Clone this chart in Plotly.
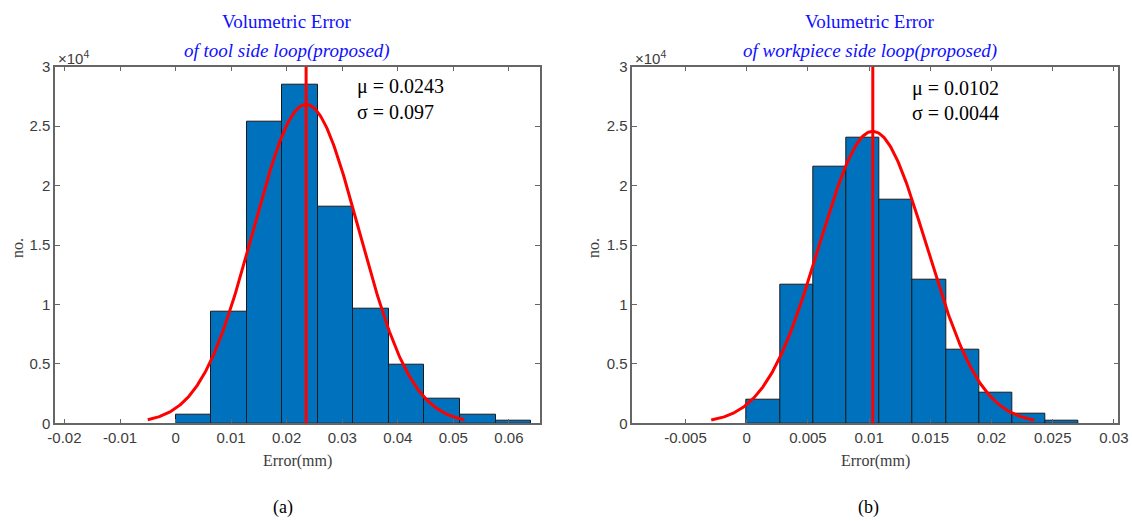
import numpy as np
import plotly.graph_objects as go

# ---------------- data ----------------
counts_a = [750, 9350, 25400, 28500, 18200, 9650, 4950, 2100, 720, 200]
bin_start_a = 0.0
bin_width_a = 0.0064
fit_mu_a = 0.0235
fit_sigma_a = 0.0095

counts_b = [1950, 11650, 21600, 24000, 18850, 12050, 6200, 2550, 850, 200]
bin_start_b = 0.0
bin_width_b = 0.002712
fit_mu_b = 0.0103
fit_sigma_b = 0.0044

label_mu_a, label_sigma_a = "0.0243", "0.097"
label_mu_b, label_sigma_b = "0.0102", "0.0044"

title1 = "Volumetric Error"
title2_a = "of tool side loop(proposed)"
title2_b = "of workpiece side loop(proposed)"

xticks_a = [-0.02, -0.01, 0, 0.01, 0.02, 0.03, 0.04, 0.05, 0.06]
xticklabels_a = ["-0.02", "-0.01", "0", "0.01", "0.02", "0.03", "0.04", "0.05", "0.06"]
xticks_b = [-0.005, 0, 0.005, 0.01, 0.015, 0.02, 0.025, 0.03]
xticklabels_b = ["-0.005", "0", "0.005", "0.01", "0.015", "0.02", "0.025", "0.03"]
yticks = [0, 5000, 10000, 15000, 20000, 25000, 30000]
yticklabels = ["0", "0.5", "1", "1.5", "2", "2.5", "3"]

xrange_a = [-0.0217, 0.0656]
xrange_b = [-0.00935, 0.03036]
yrange = [0, 30000]

# ---------------- helpers ----------------
W, H = 1132, 521
def px(x):
    return x / W
def py(y):
    return 1 - y / H

BAR_COLOR = "#0072BD"
AX_COLOR = "#666666"
SANS = "Liberation Sans"
SERIF = "Liberation Serif"
TICK_FONT = dict(family=SANS, size=15, color="#3c3c3c")


def hist_traces(counts, start, bw, mu, sigma, xa, ya):
    centers = [start + bw * (i + 0.5) for i in range(len(counts))]
    bars = go.Bar(x=centers, y=counts, width=[bw] * len(counts),
                  marker=dict(color=BAR_COLOR, line=dict(color="#1a1a1a", width=1)),
                  xaxis=xa, yaxis=ya, showlegend=False, hoverinfo="x+y")
    n = sum(counts)
    xs = np.linspace(mu - 3 * sigma, mu + 3 * sigma, 301)
    ys = n * bw / (sigma * np.sqrt(2 * np.pi)) * np.exp(-0.5 * ((xs - mu) / sigma) ** 2)
    curve = go.Scatter(x=xs, y=ys, mode="lines", line=dict(color="#ff0000", width=3),
                       xaxis=xa, yaxis=ya, showlegend=False, hoverinfo="skip")
    return [bars, curve]


fig = go.Figure()
for t in hist_traces(counts_a, bin_start_a, bin_width_a, fit_mu_a, fit_sigma_a, "x", "y"):
    fig.add_trace(t)
for t in hist_traces(counts_b, bin_start_b, bin_width_b, fit_mu_b, fit_sigma_b, "x2", "y2"):
    fig.add_trace(t)

# mean lines
fig.add_shape(type="line", xref="x", yref="y domain", x0=fit_mu_a, x1=fit_mu_a, y0=0, y1=1,
              line=dict(color="#ff0000", width=3))
fig.add_shape(type="line", xref="x2", yref="y2 domain", x0=fit_mu_b, x1=fit_mu_b, y0=0, y1=1,
              line=dict(color="#ff0000", width=3))

common_x = dict(showline=True, linecolor=AX_COLOR, linewidth=1.5, mirror="allticks",
                ticks="inside", ticklen=5, tickcolor=AX_COLOR, tickwidth=1,
                tickfont=TICK_FONT, showgrid=False, zeroline=False, fixedrange=True,
                automargin=False)
common_y = dict(common_x, range=yrange, tickvals=yticks, ticktext=yticklabels)

ydom = [py(423.3), py(66.7)]
fig.update_layout(
    width=W, height=H, autosize=False,
    margin=dict(l=0, r=0, t=0, b=0, pad=0),
    paper_bgcolor="white", plot_bgcolor="white",
    bargap=0,
    xaxis=dict(common_x, domain=[px(55), px(540)], range=xrange_a,
               tickvals=xticks_a, ticktext=xticklabels_a, anchor="y"),
    yaxis=dict(common_y, domain=ydom, anchor="x"),
    xaxis2=dict(common_x, domain=[px(632.3), px(1118.3)], range=xrange_b,
                tickvals=xticks_b, ticktext=xticklabels_b, anchor="y2"),
    yaxis2=dict(common_y, domain=ydom, anchor="x2"),
)

ann = []
def text(x, y, s, size, color, family=SERIF, xanchor="center", angle=0):
    ann.append(dict(x=px(x), y=py(y), xref="paper", yref="paper", text=s, showarrow=False,
                    xanchor=xanchor, yanchor="middle", textangle=angle,
                    font=dict(family=family, size=size, color=color)))

for cx, t2 in [(287, title2_a), (870, title2_b)]:
    text(cx, 22, title1, 19, "#1010ff")
    text(cx, 51, "<i>" + t2 + "</i>", 19, "#1010ff")

text(355, 87, "\u03bc = " + label_mu_a, 20, "black", xanchor="left")
text(355, 112, "\u03c3 = " + label_sigma_a, 20, "black", xanchor="left")
text(910, 89, "\u03bc = " + label_mu_b, 20, "black", xanchor="left")
text(910, 113, "\u03c3 = " + label_sigma_b, 20, "black", xanchor="left")

for x0 in (56, 633):
    text(x0, 58, "\u00d710<sup>4</sup>", 15, "#3c3c3c", family=SANS, xanchor="left")

text(17, 248, "no.", 16, "#3c3c3c", angle=-90)
text(593, 248, "no.", 16, "#3c3c3c", angle=-90)
text(297, 461, "Error(mm)", 16, "#3c3c3c")
text(875, 461, "Error(mm)", 16, "#3c3c3c")
text(283, 507, "(a)", 18, "black")
text(868, 507, "(b)", 18, "black")

fig.update_layout(annotations=ann)
fig.write_html("out.html")
